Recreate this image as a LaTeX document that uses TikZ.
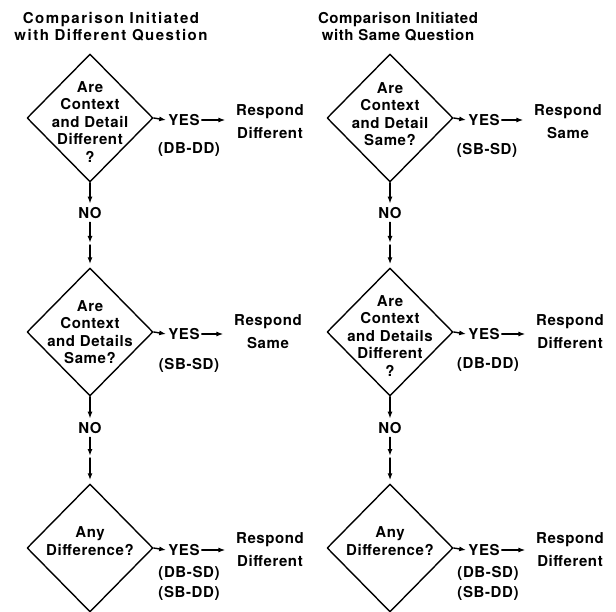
\documentclass[tikz,border=0pt]{standalone}
\usepackage{fontspec}
\setmainfont{TeX Gyre Heros}[LetterSpace=4]
\usepackage{tikz}
\usetikzlibrary{arrows.meta,shapes.geometric}

\tikzset{
  decision/.style={draw,diamond,line width=1.4pt,minimum width=126pt,minimum height=128pt,inner sep=0pt},
  qtext/.style={align=center,inner sep=0pt,font=\bfseries\fontsize{15}{17.5}\selectfont},
  title/.style={align=center,inner sep=0pt,font=\bfseries\fontsize{15}{17}\selectfont},
  resp/.style={align=center,inner sep=0pt,font=\bfseries\fontsize{15}{23}\selectfont},
  tag/.style={align=center,inner sep=0pt,font=\bfseries\fontsize{15}{20}\selectfont},
  yes/.style={inner sep=1.5pt,font=\bfseries\fontsize{15}{17}\selectfont},
  no/.style={inner sep=3pt,font=\bfseries\fontsize{15}{17}\selectfont},
}

\begin{document}
\begin{tikzpicture}[line cap=round,line join=round,x=1pt,y=-1pt,
  >={Latex[length=7pt,width=5pt]},line width=1.4pt]
\useasboundingbox (0,0) rectangle (616,612);
\clip (0,0) rectangle (616,612);
% titles
\node[title,font=\bfseries\fontsize{15}{17}\selectfont\addfontfeature{LetterSpace=10}] (tl) at (111,26.5) {Comparison Initiated\\with Different Question};
\node[title] (tr) at (398,26.5) {Comparison Initiated\\with Same Question};
% left column
\node[decision] (l1) at (90,118) {};
\node[qtext] (l1q) at (90,122) {Are\\Context\\and Detail\\Different\\?};
\node[yes] (l1y) at (184,120) {YES};
\node[resp] (l1r) at (270,121.5) {Respond\\Different};
\node[tag] (l1t) at (189,150) {(DB-DD)};
\node[no] (l1n) at (90,213) {NO};
\coordinate (l1m) at (90,243);
\node[decision] (l2) at (90,332) {};
\node[qtext] (l2q) at (90,332) {Are\\Context\\and Details\\Same?};
\node[yes] (l2y) at (184,334) {YES};
\node[resp] (l2r) at (268,332) {Respond\\Same};
\node[tag] (l2t) at (189,365) {(SB-SD)};
\node[no] (l2n) at (90,428) {NO};
\coordinate (l2m) at (90,456);
\node[decision] (l3) at (90,548) {};
\node[qtext] (l3q) at (90,541) {Any\\Difference?};
\node[yes] (l3y) at (184,550) {YES};
\node[resp] (l3r) at (270,549.5) {Respond\\Different};
\node[tag] (l3t) at (189,583) {(DB-SD)\\(SB-DD)};
% right column
\node[decision] (r1) at (390,118) {};
\node[qtext] (r1q) at (390,114) {Are\\Context\\and Detail\\Same?};
\node[yes] (r1y) at (484,120) {YES};
\node[resp] (r1r) at (568,121.5) {Respond\\Same};
\node[tag] (r1t) at (487,150) {(SB-SD)};
\node[no] (r1n) at (390,213) {NO};
\coordinate (r1m) at (390,243);
\node[decision] (r2) at (390,332) {};
\node[qtext] (r2q) at (390,336) {Are\\Context\\and Details\\Different\\?};
\node[yes] (r2y) at (484,334) {YES};
\node[resp] (r2r) at (570,332) {Respond\\Different};
\node[tag] (r2t) at (488,365) {(DB-DD)};
\node[no] (r2n) at (390,428) {NO};
\coordinate (r2m) at (390,456);
\node[decision] (r3) at (390,548) {};
\node[qtext] (r3q) at (390,541) {Any\\Difference?};
\node[yes] (r3y) at (484,550) {YES};
\node[resp] (r3r) at (570,549.5) {Respond\\Different};
\node[tag] (r3t) at (488,583) {(DB-SD)\\(SB-DD)};
% yes arrows
\draw[->] (l1.east) -- (l1y.west);
\draw[->] (l1y.east) -- (l1y.east -| l1r.west) [shorten >=10pt];
\draw[->] (l2.east) -- (l2y.west);
\draw[->] (l2y.east) -- (l2y.east -| l2r.west) [shorten >=10pt];
\draw[->] (l3.east) -- (l3y.west);
\draw[->] (l3y.east) -- (l3y.east -| l3r.west) [shorten >=10pt];
\draw[->] (r1.east) -- (r1y.west);
\draw[->] (r1y.east) -- (r1y.east -| r1r.west) [shorten >=10pt];
\draw[->] (r2.east) -- (r2y.west);
\draw[->] (r2y.east) -- (r2y.east -| r2r.west) [shorten >=10pt];
\draw[->] (r3.east) -- (r3y.west);
\draw[->] (r3y.east) -- (r3y.east -| r3r.west) [shorten >=10pt];
% no arrows
\draw[->] (l1.south) -- (l1n.north);
\draw[->] (l1n.south) -- (l1m);
\draw[->,shorten <=2pt,shorten >=3pt] (l1m) -- (l2.north);
\draw[->] (l2.south) -- (l2n.north);
\draw[->] (l2n.south) -- (l2m);
\draw[->,shorten <=2pt,shorten >=3pt] (l2m) -- (l3.north);
\draw[->] (r1.south) -- (r1n.north);
\draw[->] (r1n.south) -- (r1m);
\draw[->,shorten <=2pt,shorten >=3pt] (r1m) -- (r2.north);
\draw[->] (r2.south) -- (r2n.north);
\draw[->] (r2n.south) -- (r2m);
\draw[->,shorten <=2pt,shorten >=3pt] (r2m) -- (r3.north);
\end{tikzpicture}
\end{document}
